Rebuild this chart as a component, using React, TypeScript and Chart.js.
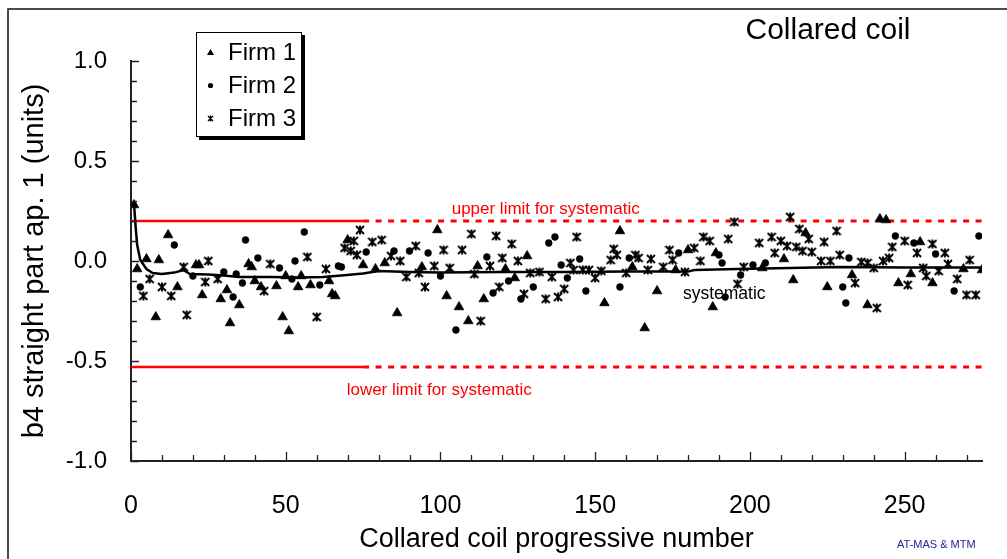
import React, { useEffect, useRef } from 'react';
import { Chart, registerables } from 'chart.js';

Chart.register(...registerables);

const FONT = '"Liberation Sans", Arial, sans-serif';

// ---------- data ----------
const firm1X = [1, 2, 5, 8, 9, 12, 15, 21, 22, 23, 29, 31, 32, 35, 38, 39, 40, 42, 47, 49, 50, 51, 54, 55, 58, 64, 65, 66, 70, 75, 79, 82, 86, 94, 99, 102, 106, 109, 112, 114, 121, 124, 128, 153, 158, 162, 166, 170, 176, 180, 188, 189, 204, 211, 214, 218, 225, 233, 238, 242, 244, 248, 252, 255, 259, 269, 275];
const firm1Y = [0.28, -0.04, 0.01, -0.28, 0.005, 0.13, -0.13, -0.02, -0.02, -0.17, -0.19, -0.145, -0.31, -0.22, -0.015, -0.03, -0.1, -0.13, -0.125, -0.28, -0.075, -0.35, -0.13, -0.075, -0.12, -0.1, -0.165, -0.175, 0.105, -0.02, -0.04, -0.01, -0.26, -0.03, 0.155, -0.175, -0.23, -0.3, -0.025, -0.19, -0.04, -0.085, 0.025, -0.21, 0.15, -0.03, -0.335, -0.15, -0.045, 0.055, -0.23, 0.04, -0.035, 0.01, -0.095, 0.14, -0.13, -0.07, -0.22, 0.21, 0.205, -0.11, -0.065, 0.095, -0.11, -0.04, -0.045];

const firm2X = [3, 14, 20, 30, 33, 34, 36, 37, 41, 48, 52, 53, 56, 61, 67, 68, 76, 85, 90, 96, 100, 105, 115, 117, 122, 126, 130, 135, 137, 139, 141, 145, 147, 158, 161, 177, 190, 191, 192, 197, 201, 205, 230, 231, 232, 247, 253, 260, 266, 274];
const firm2Y = [-0.13, 0.08, -0.075, -0.055, -0.18, -0.065, -0.11, 0.105, 0.015, -0.035, -0.09, 0.0, 0.145, -0.12, -0.025, -0.03, 0.045, 0.05, 0.05, 0.04, -0.075, -0.345, 0.02, -0.16, -0.1, -0.19, -0.13, 0.09, 0.12, -0.02, -0.085, 0.01, -0.15, -0.13, 0.015, 0.04, 0.03, -0.01, -0.18, -0.07, -0.02, -0.01, -0.13, -0.21, 0.015, 0.125, 0.09, 0.035, -0.15, 0.125];

const firm3X = [4, 6, 10, 13, 17, 18, 24, 25, 28, 43, 45, 57, 60, 63, 69, 71, 72, 73, 74, 78, 81, 84, 87, 89, 92, 93, 95, 98, 101, 103, 107, 110, 111, 113, 116, 118, 119, 120, 123, 125, 127, 129, 132, 134, 136, 138, 140, 142, 143, 144, 146, 148, 150, 152, 155, 156, 157, 160, 163, 164, 167, 168, 172, 174, 175, 179, 182, 184, 185, 187, 193, 195, 196, 198, 203, 207, 208, 210, 212, 213, 215, 216, 217, 219, 220, 223, 224, 226, 228, 229, 234, 236, 238, 240, 241, 243, 245, 246, 250, 251, 254, 256, 257, 259, 261, 263, 264, 267, 270, 271, 273];
const firm3Y = [-0.175, -0.09, -0.13, -0.175, -0.03, -0.27, -0.105, 0.0, -0.09, -0.15, -0.015, 0.02, -0.28, -0.04, 0.065, 0.05, 0.1, 0.03, 0.155, 0.095, 0.105, 0.025, 0.0, -0.08, 0.075, -0.06, -0.13, -0.025, 0.055, -0.035, 0.055, 0.135, -0.065, -0.3, -0.025, 0.125, -0.13, 0.015, 0.085, 0.0, -0.165, -0.06, -0.055, -0.19, -0.08, -0.18, -0.14, -0.01, -0.045, 0.12, -0.045, -0.045, -0.085, -0.05, 0.005, 0.06, 0.03, -0.06, 0.03, 0.015, -0.045, 0.01, -0.03, 0.055, 0.005, -0.055, 0.065, 0.0, 0.12, 0.1, 0.11, 0.195, -0.115, -0.03, 0.09, 0.12, 0.04, 0.1, 0.075, 0.22, 0.07, 0.16, 0.05, 0.11, 0.045, 0.0, 0.095, 0.0, 0.15, 0.03, -0.11, -0.005, -0.01, -0.035, -0.235, 0.0, 0.015, 0.07, 0.1, -0.12, 0.04, -0.035, -0.075, 0.085, -0.05, 0.04, -0.015, -0.09, -0.17, 0.005, -0.17];

const systematicX = [1, 1.5, 2, 3, 5, 7, 10, 14, 17, 19, 25, 30, 35, 45, 55, 62, 68, 75, 80, 90, 100, 120, 140, 160, 180, 182, 196, 213, 229, 250, 275];
const systematicY = [0.28, 0.17, 0.08, 0.005, -0.04, -0.06, -0.065, -0.058, -0.045, -0.065, -0.068, -0.072, -0.08, -0.08, -0.082, -0.08, -0.072, -0.062, -0.05, -0.055, -0.058, -0.055, -0.055, -0.053, -0.053, -0.045, -0.04, -0.035, -0.03, -0.032, -0.032];

const upperLimit = 0.2;
const lowerLimit = -0.53;
const limitSolidX = [0, 75];
const limitDashedX = [75, 275];

const seriesNames = ['Firm 1', 'Firm 2', 'Firm 3'];
const xMajorTicks = [0, 50, 100, 150, 200, 250];
const xTickLabels = ['0', '50', '100', '150', '200', '250'];
const yMajorTicks = [-1, -0.5, 0, 0.5, 1];
const yTickLabels = ['-1.0', '-0.5', '0.0', '0.5', '1.0'];
const xMinorTicks = Array.from({ length: 28 }, (_, i) => i * 10);
const yMinorTicks = Array.from({ length: 21 }, (_, i) => -1 + i * 0.1);

// ---------- helpers ----------
const toPts = (xs: number[], ys: number[]) => xs.map((x, i) => ({ x, y: ys[i] }));

function makeStar(size: number, lw: number) {
  const c = document.createElement('canvas');
  c.width = size;
  c.height = size;
  const g = c.getContext('2d')!;
  g.strokeStyle = '#000';
  g.lineWidth = lw;
  const m = 1;
  g.beginPath();
  g.moveTo(m, m);
  g.lineTo(size - m, size - m);
  g.moveTo(size - m, m);
  g.lineTo(m, size - m);
  g.moveTo(size / 2, m - 0.5);
  g.lineTo(size / 2, size - m + 0.5);
  g.stroke();
  return c;
}

const decorPlugin = {
  id: 'decor',
  afterDraw(chart: any) {
    const ctx: CanvasRenderingContext2D = chart.ctx;
    const xs = chart.scales.x;
    const ys = chart.scales.y;
    ctx.save();
    // outer frame
    ctx.strokeStyle = '#111';
    ctx.lineWidth = 1.5;
    ctx.beginPath();
    ctx.moveTo(8, 560);
    ctx.lineTo(8, 9);
    ctx.lineTo(1008, 9);
    ctx.stroke();

    // inward ticks
    ctx.strokeStyle = '#222';
    ctx.lineWidth = 1.3;
    ctx.beginPath();
    for (const v of xMinorTicks) {
      const px = Math.round(xs.getPixelForValue(v)) + 0.5;
      const len = xMajorTicks.includes(v) ? 9 : 6;
      ctx.moveTo(px, ys.bottom);
      ctx.lineTo(px, ys.bottom - len);
    }
    for (const v of yMinorTicks) {
      const py = Math.round(ys.getPixelForValue(v)) + 0.5;
      const major = yMajorTicks.some((t) => Math.abs(t - v) < 1e-6);
      ctx.moveTo(xs.left, py);
      ctx.lineTo(xs.left + (major ? 8 : 6), py);
    }
    ctx.stroke();

    // annotations
    ctx.fillStyle = '#ff0000';
    ctx.font = `17px ${FONT}`;
    ctx.textAlign = 'center';
    ctx.textBaseline = 'alphabetic';
    ctx.fillText('upper limit for systematic', xs.getPixelForValue(134), ys.getPixelForValue(upperLimit) - 7);
    ctx.fillText('lower limit for systematic', xs.getPixelForValue(99.6), ys.getPixelForValue(lowerLimit) + 28);
    ctx.fillStyle = '#000';
    ctx.font = `17.5px ${FONT}`;
    ctx.fillText('systematic', xs.getPixelForValue(191.7), ys.getPixelForValue(-0.19));

    // chart title
    ctx.font = `30px ${FONT}`;
    ctx.fillText('Collared coil', 828, 39);

    // credit
    ctx.textAlign = 'left';
    ctx.fillStyle = '#22229a';
    ctx.font = `11px ${FONT}`;
    ctx.fillText('AT-MAS & MTM', 897, 548);

    // legend
    ctx.fillStyle = '#000';
    ctx.fillRect(199, 35, 106, 105);
    ctx.fillStyle = '#fff';
    ctx.fillRect(196, 32, 106, 105);
    ctx.strokeStyle = '#000';
    ctx.lineWidth = 1;
    ctx.strokeRect(196.5, 32.5, 105, 104);
    const rows = [52.5, 85.5, 118.5];
    ctx.fillStyle = '#000';
    ctx.font = `24px ${FONT}`;
    ctx.textBaseline = 'middle';
    rows.forEach((ry, i) => {
      const mx = 210.5;
      ctx.fillStyle = '#000';
      ctx.strokeStyle = '#000';
      if (i === 0) {
        ctx.beginPath();
        ctx.moveTo(mx, ry - 3.5);
        ctx.lineTo(mx + 3.5, ry + 2.5);
        ctx.lineTo(mx - 3.5, ry + 2.5);
        ctx.closePath();
        ctx.fill();
      } else if (i === 1) {
        ctx.beginPath();
        ctx.arc(mx, ry, 2.6, 0, Math.PI * 2);
        ctx.fill();
      } else {
        ctx.lineWidth = 1.3;
        ctx.beginPath();
        ctx.moveTo(mx - 2.5, ry - 2.5);
        ctx.lineTo(mx + 2.5, ry + 2.5);
        ctx.moveTo(mx + 2.5, ry - 2.5);
        ctx.lineTo(mx - 2.5, ry + 2.5);
        ctx.moveTo(mx, ry - 3);
        ctx.lineTo(mx, ry + 3);
        ctx.stroke();
      }
      ctx.fillText(seriesNames[i], 228, ry + 1);
    });
    ctx.restore();
  },
};

export default function App() {
  const canvasRef = useRef<HTMLCanvasElement | null>(null);

  useEffect(() => {
    const canvas = canvasRef.current;
    if (!canvas) return;
    const star = makeStar(10, 1.9);
    Chart.defaults.font.family = FONT;

    const chart = new Chart(canvas, {
      type: 'scatter',
      data: {
        datasets: [
          {
            label: seriesNames[0],
            data: toPts(firm1X, firm1Y),
            pointStyle: 'triangle',
            pointRadius: 5.5,
            pointBackgroundColor: '#000',
            pointBorderColor: '#000',
            pointBorderWidth: 0.8,
            showLine: false,
          },
          {
            label: seriesNames[1],
            data: toPts(firm2X, firm2Y),
            pointStyle: 'circle',
            pointRadius: 3.4,
            pointBackgroundColor: '#000',
            pointBorderColor: '#000',
            pointBorderWidth: 0.6,
            showLine: false,
          },
          {
            label: seriesNames[2],
            data: toPts(firm3X, firm3Y),
            pointStyle: star as any,
            pointRadius: 5,
            showLine: false,
          },
          {
            label: 'systematic',
            data: toPts(systematicX, systematicY),
            showLine: true,
            borderColor: '#000',
            borderWidth: 2.5,
            pointRadius: 0,
            tension: 0,
          },
          {
            label: 'upper solid',
            data: limitSolidX.map((x) => ({ x, y: upperLimit })),
            showLine: true,
            borderColor: '#ff0000',
            borderWidth: 2.5,
            pointRadius: 0,
          },
          {
            label: 'upper dashed',
            data: limitDashedX.map((x) => ({ x, y: upperLimit })),
            showLine: true,
            borderColor: '#ff0000',
            borderWidth: 3,
            borderDash: [6, 6.5],
            pointRadius: 0,
          },
          {
            label: 'lower solid',
            data: limitSolidX.map((x) => ({ x, y: lowerLimit })),
            showLine: true,
            borderColor: '#ff0000',
            borderWidth: 2.5,
            pointRadius: 0,
          },
          {
            label: 'lower dashed',
            data: limitDashedX.map((x) => ({ x, y: lowerLimit })),
            showLine: true,
            borderColor: '#ff0000',
            borderWidth: 3,
            borderDash: [6, 6.5],
            pointRadius: 0,
          },
        ],
      },
      options: {
        animation: false,
        responsive: false,
        devicePixelRatio: 1,
        events: [],
        layout: { padding: { top: 61, right: 25, bottom: 0, left: 0 } },
        plugins: { legend: { display: false }, tooltip: { enabled: false }, title: { display: false } },
        scales: {
          x: {
            type: 'linear',
            min: 0,
            max: 275,
            afterFit: (s: any) => {
              s.height = 98;
            },
            afterBuildTicks: (s: any) => {
              s.ticks = xMajorTicks.map((value) => ({ value }));
            },
            grid: { display: false, drawTicks: false },
            border: { display: true, color: '#222', width: 2 },
            ticks: {
              padding: 30,
              color: '#000',
              maxRotation: 0,
              autoSkip: false,
              font: { family: FONT, size: 25 },
              callback: (v: any) => xTickLabels[xMajorTicks.indexOf(Number(v))] ?? '',
            },
            title: {
              display: true,
              text: 'Collared coil progressive number',
              color: '#000',
              font: { family: FONT, size: 27 },
              padding: { top: 0, bottom: 3 },
            },
          },
          y: {
            type: 'linear',
            min: -1,
            max: 1,
            afterFit: (s: any) => {
              s.width = 131;
            },
            afterBuildTicks: (s: any) => {
              s.ticks = yMajorTicks.map((value) => ({ value }));
            },
            grid: { display: false, drawTicks: false },
            border: { display: true, color: '#222', width: 2 },
            ticks: {
              padding: 24,
              color: '#000',
              autoSkip: false,
              font: { family: FONT, size: 24 },
              callback: (v: any) => {
                const i = yMajorTicks.findIndex((t) => Math.abs(t - Number(v)) < 1e-6);
                return i >= 0 ? yTickLabels[i] : '';
              },
            },
            title: {
              display: true,
              text: 'b4 straight part ap. 1 (units)',
              color: '#000',
              font: { family: FONT, size: 29 },
              padding: { top: 18, bottom: 0 },
            },
          },
        },
      } as any,
      plugins: [decorPlugin],
    });
    return () => chart.destroy();
  }, []);

  return (
    <div style={{ position: 'fixed', left: 0, top: 0, width: 1007, height: 559, background: '#fff', overflow: 'hidden' }}>
      <canvas ref={canvasRef} width={1007} height={559} style={{ display: 'block', width: 1007, height: 559 }} />
    </div>
  );
}
